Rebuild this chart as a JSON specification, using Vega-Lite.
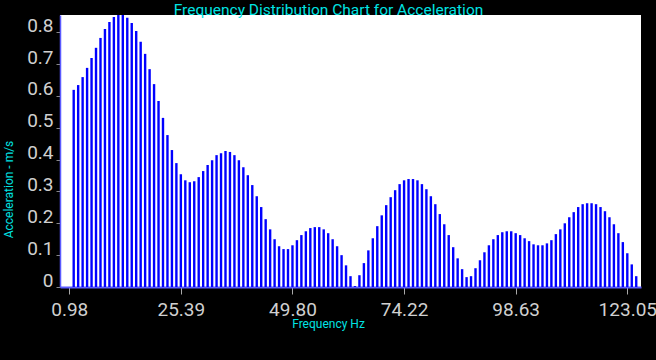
{
  "$schema": "https://vega.github.io/schema/vega-lite/v6.json",
  "width": 581,
  "height": 272,
  "autosize": {"type": "none"},
  "padding": {"left": 60, "top": 15, "right": 15, "bottom": 73},
  "background": "#000000",
  "title": {
    "text": "Frequency Distribution Chart for Acceleration",
    "color": "#00E3E3",
    "font": "Roboto",
    "fontSize": 15.5,
    "fontWeight": "normal",
    "anchor": "middle",
    "baseline": "alphabetic",
    "offset": -3,
    "dy": 12,
    "dx": -22
  },
  "config": {
    "view": {"fill": "#ffffff", "stroke": null},
    "font": "Roboto"
  },
  "data": {
    "values": [
      {"f": 1.953, "a": 0.619}, {"f": 2.930, "a": 0.634}, {"f": 3.906, "a": 0.659}, {"f": 4.883, "a": 0.688},
      {"f": 5.859, "a": 0.719}, {"f": 6.836, "a": 0.751}, {"f": 7.813, "a": 0.782}, {"f": 8.789, "a": 0.810},
      {"f": 9.766, "a": 0.832}, {"f": 10.742, "a": 0.848}, {"f": 11.719, "a": 0.854}, {"f": 12.695, "a": 0.854},
      {"f": 13.672, "a": 0.845}, {"f": 14.648, "a": 0.829}, {"f": 15.625, "a": 0.804}, {"f": 16.602, "a": 0.770},
      {"f": 17.578, "a": 0.732}, {"f": 18.555, "a": 0.684}, {"f": 19.531, "a": 0.637}, {"f": 20.508, "a": 0.584},
      {"f": 21.484, "a": 0.531}, {"f": 22.461, "a": 0.477}, {"f": 23.438, "a": 0.430}, {"f": 24.414, "a": 0.389},
      {"f": 25.391, "a": 0.354}, {"f": 26.367, "a": 0.335}, {"f": 27.344, "a": 0.329}, {"f": 28.320, "a": 0.332},
      {"f": 29.297, "a": 0.345}, {"f": 30.273, "a": 0.364}, {"f": 31.250, "a": 0.383}, {"f": 32.227, "a": 0.398},
      {"f": 33.203, "a": 0.414}, {"f": 34.180, "a": 0.420}, {"f": 35.156, "a": 0.427}, {"f": 36.133, "a": 0.424},
      {"f": 37.109, "a": 0.414}, {"f": 38.086, "a": 0.398}, {"f": 39.063, "a": 0.376}, {"f": 40.039, "a": 0.351},
      {"f": 41.016, "a": 0.320}, {"f": 41.992, "a": 0.285}, {"f": 42.969, "a": 0.251}, {"f": 43.945, "a": 0.213},
      {"f": 44.922, "a": 0.181}, {"f": 45.898, "a": 0.150}, {"f": 46.875, "a": 0.128}, {"f": 47.852, "a": 0.119},
      {"f": 48.828, "a": 0.119}, {"f": 49.805, "a": 0.131}, {"f": 50.781, "a": 0.147}, {"f": 51.758, "a": 0.163},
      {"f": 52.734, "a": 0.175}, {"f": 53.711, "a": 0.185}, {"f": 54.688, "a": 0.188}, {"f": 55.664, "a": 0.188},
      {"f": 56.641, "a": 0.181}, {"f": 57.617, "a": 0.169}, {"f": 58.594, "a": 0.150}, {"f": 59.570, "a": 0.128},
      {"f": 60.547, "a": 0.100}, {"f": 61.523, "a": 0.068}, {"f": 62.500, "a": 0.034}, {"f": 63.477, "a": 0.003},
      {"f": 64.453, "a": 0.037}, {"f": 65.430, "a": 0.075}, {"f": 66.406, "a": 0.115}, {"f": 67.383, "a": 0.153},
      {"f": 68.359, "a": 0.191}, {"f": 69.336, "a": 0.225}, {"f": 70.313, "a": 0.257}, {"f": 71.289, "a": 0.282},
      {"f": 72.266, "a": 0.304}, {"f": 73.242, "a": 0.323}, {"f": 74.219, "a": 0.335}, {"f": 75.195, "a": 0.339},
      {"f": 76.172, "a": 0.339}, {"f": 77.148, "a": 0.335}, {"f": 78.125, "a": 0.323}, {"f": 79.102, "a": 0.307},
      {"f": 80.078, "a": 0.285}, {"f": 81.055, "a": 0.260}, {"f": 82.031, "a": 0.229}, {"f": 83.008, "a": 0.197},
      {"f": 83.984, "a": 0.163}, {"f": 84.961, "a": 0.125}, {"f": 85.938, "a": 0.090}, {"f": 86.914, "a": 0.056},
      {"f": 87.891, "a": 0.031}, {"f": 88.867, "a": 0.034}, {"f": 89.844, "a": 0.059}, {"f": 90.820, "a": 0.084},
      {"f": 91.797, "a": 0.109}, {"f": 92.773, "a": 0.131}, {"f": 93.750, "a": 0.150}, {"f": 94.727, "a": 0.163},
      {"f": 95.703, "a": 0.172}, {"f": 96.680, "a": 0.175}, {"f": 97.656, "a": 0.175}, {"f": 98.633, "a": 0.169},
      {"f": 99.609, "a": 0.163}, {"f": 100.586, "a": 0.153}, {"f": 101.563, "a": 0.144}, {"f": 102.539, "a": 0.134},
      {"f": 103.516, "a": 0.131}, {"f": 104.492, "a": 0.131}, {"f": 105.469, "a": 0.137}, {"f": 106.445, "a": 0.147},
      {"f": 107.422, "a": 0.166}, {"f": 108.398, "a": 0.181}, {"f": 109.375, "a": 0.200}, {"f": 110.352, "a": 0.219},
      {"f": 111.328, "a": 0.235}, {"f": 112.305, "a": 0.251}, {"f": 113.281, "a": 0.260}, {"f": 114.258, "a": 0.263},
      {"f": 115.234, "a": 0.263}, {"f": 116.211, "a": 0.260}, {"f": 117.188, "a": 0.251}, {"f": 118.164, "a": 0.238},
      {"f": 119.141, "a": 0.219}, {"f": 120.117, "a": 0.197}, {"f": 121.094, "a": 0.169}, {"f": 122.070, "a": 0.141},
      {"f": 123.047, "a": 0.106}, {"f": 124.023, "a": 0.071}, {"f": 125.000, "a": 0.034}
    ]
  },
  "mark": {"type": "bar", "color": "#0000ff", "size": 2.4, "clip": true},
  "encoding": {
    "x": {
      "field": "f",
      "type": "quantitative",
      "scale": {"domain": [0.05, 124.95], "nice": false, "zero": false},
      "axis": {
        "title": "Frequency Hz",
        "titleColor": "#00E3E3",
        "titleFont": "Roboto",
        "titleFontSize": 12,
        "titleFontWeight": "normal",
        "titleX": 268,
        "titleY": 40,
        "titleAlign": "center",
        "titleBaseline": "alphabetic",
        "values": [0.98, 25.39, 49.80, 74.22, 98.63, 123.05],
        "format": ".2f",
        "labelColor": "#d0d0d0",
        "labelFont": "Roboto",
        "labelFontSize": 19,
        "labelBaseline": "alphabetic",
        "labelPadding": 21,
        "labelOverlap": false,
        "labelFlush": false,
        "tickSize": 7,
        "tickColor": "#aaaaaa",
        "tickWidth": 1,
        "domainColor": "#5a5aff",
        "domainWidth": 2,
        "grid": false
      }
    },
    "y": {
      "field": "a",
      "type": "quantitative",
      "scale": {"domain": [0, 0.854], "nice": false},
      "axis": {
        "title": "Acceleration - m/s",
        "titleColor": "#00E3E3",
        "titleFont": "Roboto",
        "titleFontSize": 12,
        "titleFontWeight": "normal",
        "titleX": -48,
        "titleY": 174,
        "titleAngle": -90,
        "titleAlign": "center",
        "titleBaseline": "alphabetic",
        "values": [0, 0.1, 0.2, 0.3, 0.4, 0.5, 0.6, 0.7, 0.8],
        "format": ".1~f",
        "labelColor": "#d0d0d0",
        "labelFont": "Roboto",
        "labelFontSize": 19,
        "labelBaseline": "alphabetic",
        "labelOffset": -1,
        "labelPadding": 3,
        "labelOverlap": false,
        "labelFlush": false,
        "tickSize": 4,
        "tickColor": "#888888",
        "tickWidth": 1,
        "domainColor": "#5a5aff",
        "domainWidth": 1.5,
        "grid": false
      }
    }
  }
}
